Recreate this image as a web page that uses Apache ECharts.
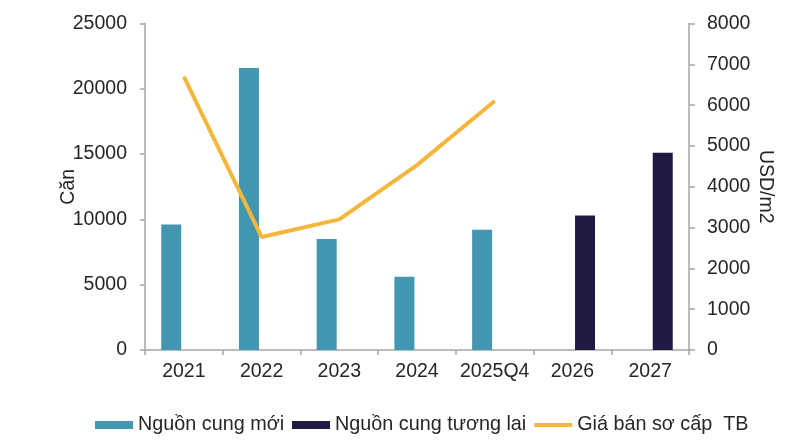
<!DOCTYPE html>
<html>
<head>
<meta charset="utf-8">
<script src="https://cdn.jsdelivr.net/npm/echarts@6/dist/echarts.min.js"></script>
<style>
html,body{margin:0;padding:0;background:#fff;}
#chart{width:808px;height:444px;}
</style>
</head>
<body>
<div id="chart"></div>
<script>
const categories = ['2021', '2022', '2023', '2024', '2025Q4', '2026', '2027'];
const newSupply = [9600, 21600, 8500, 5600, 9200, null, null];
const futureSupply = [null, null, null, null, null, 10300, 15100];
const avgPrice = [6700, 2770, 3200, 4530, 6100, null, null];
const leftTicks = { min: 0, max: 25000, interval: 5000 };
const rightTicks = { min: 0, max: 8000, interval: 1000 };

const FONT = 'Liberation Sans, Arial, sans-serif';
const TXT = '#262626';
const AX = '#A6A6A6';
const FS = 19.5;

const chart = echarts.init(document.getElementById('chart'), null, { renderer: 'canvas' });
chart.setOption({
  animation: false,
  textStyle: { fontFamily: FONT, color: TXT },
  grid: { left: 145, right: 119, top: 23.5, bottom: 94, containLabel: false },
  legend: {
    left: 90, top: 410,
    itemWidth: 38, itemHeight: 8, itemGap: 8,
    textStyle: { fontFamily: FONT, fontSize: 19.8, color: TXT },
    data: [
      { name: 'Nguồn cung mới', icon: 'rect' },
      { name: 'Nguồn cung tương lai', icon: 'rect' },
      { name: 'Giá bán sơ cấp  TB', icon: 'path://M0,0 L38,0 L38,4 L0,4 Z' }
    ]
  },
  xAxis: {
    type: 'category',
    data: categories,
    boundaryGap: true,
    axisLine: { lineStyle: { color: AX, width: 1.5 } },
    axisTick: { show: true, length: 5, alignWithLabel: false, lineStyle: { color: AX, width: 1.5 } },
    axisLabel: { color: TXT, fontSize: FS, fontFamily: FONT, margin: 12, interval: 0 },
    splitLine: { show: false }
  },
  yAxis: [
    {
      type: 'value', min: leftTicks.min, max: leftTicks.max, interval: leftTicks.interval,
      name: 'Căn', nameLocation: 'middle', nameGap: 66, nameRotate: 90, nameMoveOverlap: false,
      nameTextStyle: { color: TXT, fontSize: FS, fontFamily: FONT },
      axisLine: { show: true, lineStyle: { color: AX, width: 1.5 } },
      axisTick: { show: true, length: 5, lineStyle: { color: AX, width: 1.5 } },
      axisLabel: { color: TXT, fontSize: FS, fontFamily: FONT, margin: 18, formatter: v => String(v) },
      splitLine: { show: false }
    },
    {
      type: 'value', position: 'right', min: rightTicks.min, max: rightTicks.max, interval: rightTicks.interval,
      name: 'USD/m2', nameLocation: 'middle', nameGap: 66, nameRotate: -90, nameMoveOverlap: false,
      nameTextStyle: { color: TXT, fontSize: FS, fontFamily: FONT },
      axisLine: { show: true, lineStyle: { color: AX, width: 1.5 } },
      axisTick: { show: true, length: 6, lineStyle: { color: AX, width: 1.5 } },
      axisLabel: { color: TXT, fontSize: FS, fontFamily: FONT, margin: 18, formatter: v => String(v) },
      splitLine: { show: false }
    }
  ],
  series: [
    {
      name: 'Nguồn cung mới', type: 'bar', data: newSupply,
      barWidth: 20, barGap: '26%',
      itemStyle: { color: '#4296B0' }
    },
    {
      name: 'Nguồn cung tương lai', type: 'bar', data: futureSupply,
      barWidth: 20, barGap: '26%',
      itemStyle: { color: '#201A42' }
    },
    {
      name: 'Giá bán sơ cấp  TB', type: 'line', yAxisIndex: 1, data: avgPrice,
      symbol: 'none', showSymbol: false, connectNulls: false,
      lineStyle: { color: '#F4B73C', width: 4 },
      itemStyle: { color: '#F4B73C' }
    }
  ]
});
</script>
</body>
</html>
